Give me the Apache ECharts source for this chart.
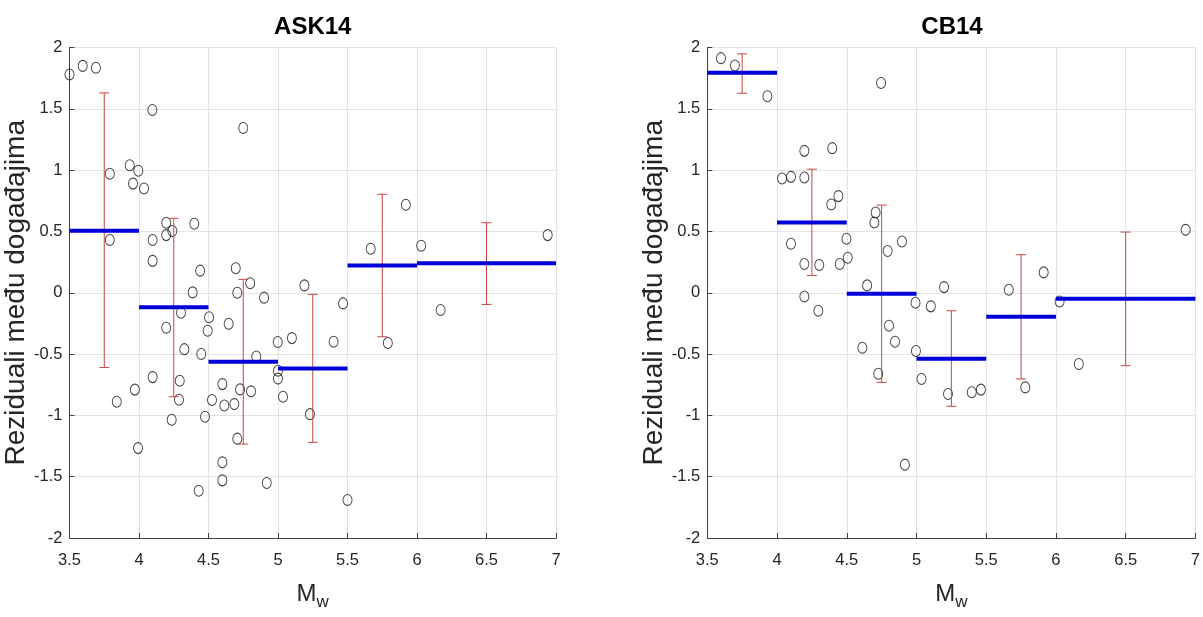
<!DOCTYPE html>
<html>
<head>
<meta charset="utf-8">
<script src="https://cdn.jsdelivr.net/npm/echarts@6/dist/echarts.min.js"></script>
<style>
html,body{margin:0;padding:0;background:#fff;}
#chart{width:1203px;height:617px;}
</style>
</head>
<body>
<div id="chart"></div>
<script>
// ---------- DATA ----------
const titles = ['ASK14', 'CB14'];
const yAxisLabel = 'Reziduali među događajima';
const xTickMin = 3.5, xTickMax = 7, xTickStep = 0.5;
const yTickMin = -2, yTickMax = 2, yTickStep = 0.5;

// ASK14 event residuals
const askMw = [3.5,3.595,3.69,4.096,4.75,3.933,3.995,3.79,3.957,4.036,4.196,4.398,4.24,4.196,3.79,4.098,4.098,4.44,4.696,4.80,5.19,4.386,4.707,4.9,4.302,4.504,4.645,4.196,4.494,4.326,4.448,4.844,4.998,5.10,5.0,5.0,5.036,4.098,3.97,3.84,4.293,4.288,4.235,4.475,4.525,4.6,4.614,4.686,4.727,4.806,4.707,3.993,4.6,4.6,4.429,4.919,5.92,5.667,6.03,6.94,5.468,5.40,5.79,6.17,5.23,5.5];
const askRes = [1.78,1.85,1.835,1.49,1.343,1.04,0.995,0.97,0.89,0.85,0.571,0.563,0.503,0.47,0.43,0.43,0.26,0.18,0.2,0.077,0.06,0.003,0.0,-0.04,-0.163,-0.2,-0.253,-0.285,-0.31,-0.46,-0.5,-0.52,-0.402,-0.37,-0.636,-0.70,-0.848,-0.688,-0.79,-0.889,-0.718,-0.872,-1.036,-1.011,-0.875,-0.745,-0.92,-0.908,-0.788,-0.804,-1.19,-1.267,-1.383,-1.53,-1.615,-1.552,0.718,0.359,0.383,0.47,-0.087,-0.40,-0.41,-0.141,-0.99,-1.69];

// CB14 event residuals
const cbMw = [3.598,3.698,3.931,4.746,4.196,4.396,4.036,4.1,4.196,4.44,4.389,4.707,4.698,4.1,4.498,4.896,4.793,4.196,4.303,4.45,4.507,4.646,4.196,4.296,4.993,4.803,4.846,4.612,4.996,4.726,5.036,4.917,5.103,5.198,5.662,5.226,5.396,5.462,5.78,6.026,6.164,5.912,6.93];
const cbRes = [1.913,1.853,1.603,1.711,1.157,1.179,0.932,0.945,0.94,0.788,0.72,0.654,0.573,0.4,0.44,0.418,0.34,0.234,0.226,0.234,0.285,0.06,-0.03,-0.147,-0.081,-0.269,-0.4,-0.448,-0.475,-0.66,-0.703,-1.402,-0.111,0.046,0.024,-0.826,-0.812,-0.79,-0.772,-0.071,-0.581,0.166,0.513];

// Magnitude bins (shared)
const binStart = [3.5, 4, 4.5, 5, 5.5, 6];
const binEnd   = [4, 4.5, 5, 5.5, 6, 7];
const binCenter = [3.75, 4.25, 4.75, 5.25, 5.75, 6.5];

// ASK14 bin means and +/- std limits
const askMean = [0.506, -0.119, -0.563, -0.617, 0.222, 0.24];
const askLow  = [-0.61, -0.848, -1.234, -1.22, -0.359, -0.095];
const askHigh = [1.63, 0.607, 0.109, -0.013, 0.803, 0.571];

// CB14 bin means and +/- std limits
const cbMean = [1.795, 0.573, -0.008, -0.538, -0.196, -0.049];
const cbLow  = [1.627, 0.141, -0.731, -0.926, -0.703, -0.595];
const cbHigh = [1.948, 1.008, 0.715, -0.147, 0.31, 0.495];

// ---------- CHART ----------
const FONT = 'Liberation Sans, Arial, sans-serif';
const TXT = '#262626';
const grids = [
  {left: 69.5, top: 47.5, width: 486.5, height: 490.5},
  {left: 707.3, top: 47.5, width: 489.4, height: 490.5}
];

function xAxisCfg(i){
  return {
    type: 'value', gridIndex: i, min: xTickMin, max: xTickMax, interval: xTickStep,
    name: '{m|M}{w|w}', nameLocation: 'middle', nameGap: 42,
    nameTextStyle: {
      rich: {
        m: {fontFamily: FONT, fontSize: 24, color: TXT, lineHeight: 28},
        w: {fontFamily: FONT, fontSize: 17, color: TXT, padding: [16, 0, 0, 0], lineHeight: 28}
      }
    },
    axisLine: {show: true, onZero: false, lineStyle: {color: '#404040', width: 1}},
    axisTick: {show: true, inside: true, length: 5, lineStyle: {color: '#404040'}},
    axisLabel: {color: TXT, fontFamily: FONT, fontSize: 16.5, margin: 14},
    splitLine: {show: true, lineStyle: {color: '#e3e3e3', width: 1}}
  };
}
function yAxisCfg(i){
  return {
    type: 'value', gridIndex: i, min: yTickMin, max: yTickMax, interval: yTickStep,
    name: yAxisLabel, nameLocation: 'middle', nameGap: 35, nameRotate: 90,
    nameTextStyle: {fontFamily: FONT, fontSize: 28, color: TXT},
    axisLine: {show: true, lineStyle: {color: '#404040', width: 1}},
    axisTick: {show: true, inside: true, length: 5, lineStyle: {color: '#404040'}},
    axisLabel: {color: TXT, fontFamily: FONT, fontSize: 16.5, margin: 7},
    splitLine: {show: true, lineStyle: {color: '#e3e3e3', width: 1}}
  };
}

function zip(a, b){ return a.map((v, i) => [v, b[i]]); }

function scatterSeries(i, xs, ys){
  return {
    type: 'scatter', xAxisIndex: i, yAxisIndex: i, clip: false, z: 3,
    symbol: 'circle', symbolSize: [9, 11],
    itemStyle: {color: 'rgba(0,0,0,0)', borderColor: '#111', borderWidth: 1},
    data: zip(xs, ys), silent: true
  };
}

function meanSeries(i, means){
  return {
    type: 'custom', xAxisIndex: i, yAxisIndex: i, z: 5, silent: true,
    data: binStart.map((s, k) => [s, binEnd[k], means[k]]),
    encode: {x: [0, 1], y: 2},
    renderItem: function(params, api){
      const p0 = api.coord([api.value(0), api.value(2)]);
      const p1 = api.coord([api.value(1), api.value(2)]);
      return {type: 'line', shape: {x1: p0[0], y1: p0[1], x2: p1[0], y2: p1[1]},
              style: {stroke: '#0000d8', lineWidth: 4}};
    }
  };
}

function errSeries(i, lows, highs){
  return {
    type: 'custom', xAxisIndex: i, yAxisIndex: i, z: 4, silent: true,
    data: binCenter.map((c, k) => [c, lows[k], highs[k]]),
    encode: {x: 0, y: [1, 2]},
    renderItem: function(params, api){
      const lo = api.coord([api.value(0), api.value(1)]);
      const hi = api.coord([api.value(0), api.value(2)]);
      const st = {stroke: '#c84646', lineWidth: 1};
      const hw = 5;
      return {type: 'group', children: [
        {type: 'line', shape: {x1: lo[0], y1: lo[1], x2: hi[0], y2: hi[1]}, style: st},
        {type: 'line', shape: {x1: lo[0]-hw, y1: lo[1], x2: lo[0]+hw, y2: lo[1]}, style: st},
        {type: 'line', shape: {x1: hi[0]-hw, y1: hi[1], x2: hi[0]+hw, y2: hi[1]}, style: st}
      ]};
    }
  };
}

const chart = echarts.init(document.getElementById('chart'), null, {renderer: 'canvas'});
chart.setOption({
  backgroundColor: '#ffffff',
  animation: false,
  grid: grids,
  xAxis: [xAxisCfg(0), xAxisCfg(1)],
  yAxis: [yAxisCfg(0), yAxisCfg(1)],
  graphic: titles.map((t, i) => ({
    type: 'text', x: grids[i].left + grids[i].width / 2, y: 27,
    style: {text: t, fill: '#000', font: 'bold 24px ' + FONT, align: 'center', verticalAlign: 'middle'}
  })),
  series: [
    scatterSeries(0, askMw, askRes),
    errSeries(0, askLow, askHigh),
    meanSeries(0, askMean),
    scatterSeries(1, cbMw, cbRes),
    errSeries(1, cbLow, cbHigh),
    meanSeries(1, cbMean)
  ]
});
</script>
</body>
</html>
